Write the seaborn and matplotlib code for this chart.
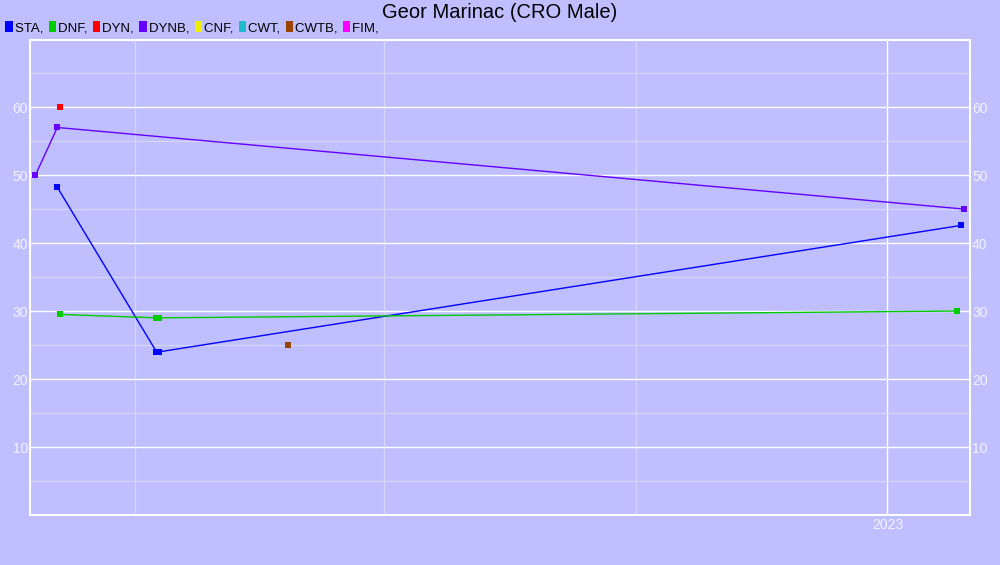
import matplotlib
matplotlib.use("Agg")
import matplotlib.pyplot as plt
import matplotlib.dates as mdates
from matplotlib.patches import Patch
from matplotlib.ticker import MultipleLocator
import seaborn as sns
import pandas as pd

# ---- data ----
series_names = ["STA", "DNF", "DYN", "DYNB", "CNF", "CWT", "CWTB", "FIM"]
series_colors = ["#0000ff", "#00cc00", "#ff0000", "#6600ff", "#eeee00", "#22bbcc", "#994400", "#ff00ff"]

sta_dates = ["2022-03-03 12:00", "2022-04-08 18:00", "2022-04-09 18:00", "2023-01-28 00:00"]
sta_values = [48.2, 24.0, 24.0, 42.6]

dnf_dates = ["2022-03-04 12:00", "2022-04-08 18:00", "2022-04-09 18:00", "2023-01-26 12:00"]
dnf_values = [29.5, 29.0, 29.0, 30.0]

dyn_dates = ["2022-03-04 12:00"]
dyn_values = [60.0]

dynb_dates = ["2022-02-23 12:00", "2022-03-03 12:00", "2023-01-29 00:00"]
dynb_values = [50.0, 57.0, 45.0]

cwtb_dates = ["2022-05-27 00:00"]
cwtb_values = [25.0]

title = "Geor Marinac (CRO Male)"
x_start, x_end = "2022-02-21 12:00", "2023-01-31 05:00"

# ---- build long table ----
frames = []
for name, d, v in [("STA", sta_dates, sta_values), ("DNF", dnf_dates, dnf_values),
                   ("DYN", dyn_dates, dyn_values), ("DYNB", dynb_dates, dynb_values),
                   ("CWTB", cwtb_dates, cwtb_values)]:
    frames.append(pd.DataFrame({"series": name,
                                "date": pd.to_datetime(d, format="mixed"),
                                "value": v}))
df = pd.concat(frames, ignore_index=True)
palette = dict(zip(series_names, series_colors))

bg = "#bfbfff"
sns.set_theme(style="white")
plt.rcParams["font.family"] = ["Liberation Sans", "DejaVu Sans"]

fig = plt.figure(figsize=(10, 5.65), dpi=100, facecolor=bg)
ax = fig.add_axes([0.03, 0.0885, 0.94, 0.8405])
ax.set_facecolor(bg)

sns.lineplot(data=df, x="date", y="value", hue="series", palette=palette,
             marker="s", markersize=4.5, markeredgewidth=0, linewidth=1,
             estimator=None, sort=False, legend=False, ax=ax)

ax.set_xlim(pd.Timestamp(x_start), pd.Timestamp(x_end))
ax.set_ylim(0, 69.85)

ax.yaxis.set_major_locator(MultipleLocator(10))
ax.yaxis.set_minor_locator(MultipleLocator(5))
ax.xaxis.set_major_locator(mdates.YearLocator())
ax.xaxis.set_major_formatter(mdates.DateFormatter("%Y"))
ax.xaxis.set_minor_locator(mdates.MonthLocator(bymonth=[4, 7, 10]))

ax.grid(which="major", color="white", linewidth=1.0)
ax.grid(which="minor", color="#d6d6fa", linewidth=0.9)
ax.set_axisbelow(True)

ax.tick_params(axis="both", which="both", length=0, colors="#f4f4ff", labelsize=10)
ax.tick_params(axis="y", labelright=True, right=False, pad=1.5)
ax.tick_params(axis="x", pad=2)
yt = [10, 20, 30, 40, 50, 60]
ax.set_yticks(yt)
ax.set_yticklabels([str(t) for t in yt])
ax.set_xlabel("")
ax.set_ylabel("")
for s in ax.spines.values():
    s.set_color("white")
    s.set_linewidth(1.5)

fig.text(0.5, 0.978, title, ha="center", va="center", fontsize=14.5, color="black")

handles = [Patch(facecolor=c, edgecolor="none") for c in series_colors]
labels = [f"{n}, " for n in series_names]
fig.legend(handles, labels, loc="upper left", bbox_to_anchor=(0.004, 0.965), ncol=8,
           frameon=False, fontsize=9.5, labelcolor="black", handlelength=0.55, handleheight=0.95,
           handletextpad=0.15, columnspacing=0.15, borderaxespad=0, borderpad=0.1)

fig.savefig("out.png", dpi=100, facecolor=bg)
